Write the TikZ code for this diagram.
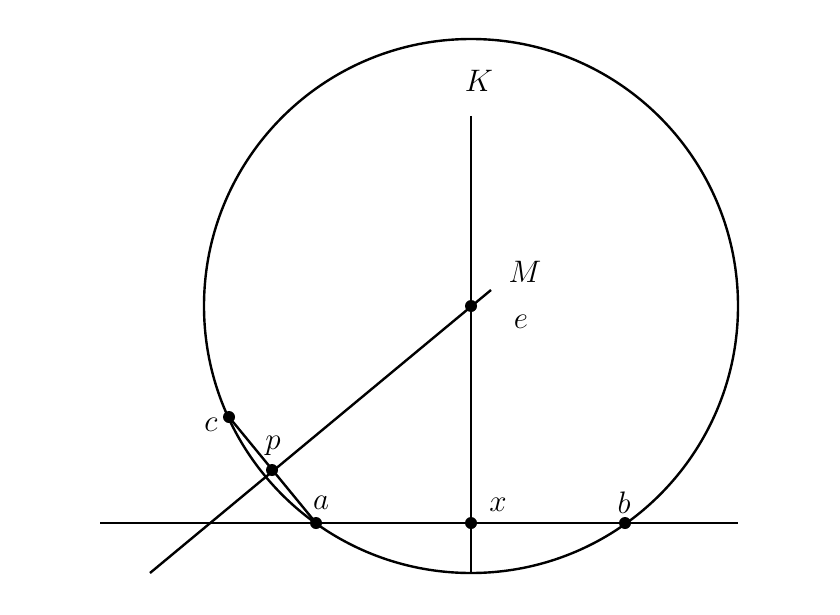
\documentclass[tikz,border=0pt]{standalone}
\begin{document}
\begin{tikzpicture}[x=1pt,y=-1pt,
  ln/.style={line width=2.4pt,black},
  dot/.style={circle,fill=black,inner sep=0pt,minimum size=12pt},
  lab/.style={font=\Huge,inner sep=0pt,scale=1.25}]
\useasboundingbox (0,0) rectangle (840,615);
% points
\node[dot] (e) at (471,306) {};
\node[dot] (a) at (316,523) {};
\node[dot] (b) at (625,523) {};
\node[dot] (x) at (471,523) {};
\node[dot] (c) at (229,417) {};
\node[dot] (p) at (272,470) {};
\coordinate (O) at (471,306);
\coordinate (L1) at (100,523);
\coordinate (L2) at (738,523);
\coordinate (V1) at (471,116);
\coordinate (V2) at (471,573);
\coordinate (M1) at (150,573);
\coordinate (M2) at (491,290);
% lines
\draw[ln] (O) circle[radius=267];
\draw[ln] (L1) -- (L2);
\draw[ln] (V1) -- (V2);
\draw[ln] (M1) -- (M2);
\draw[ln] (c.center) -- (a.center);
% labels
\node[lab] (lK) at (479,81) {$K$};
\node[lab] (lM) at (525,272) {$M$};
\node[lab] (le) at (521,322) {$e$};
\node[lab] (lc) at (211,425) {$c$};
\node[lab] (lp) at (273,446) {$p$};
\node[lab] (la) at (321,503) {$a$};
\node[lab] (lx) at (498,505) {$x$};
\node[lab] (lb) at (624,503) {$b$};
\end{tikzpicture}
\end{document}
